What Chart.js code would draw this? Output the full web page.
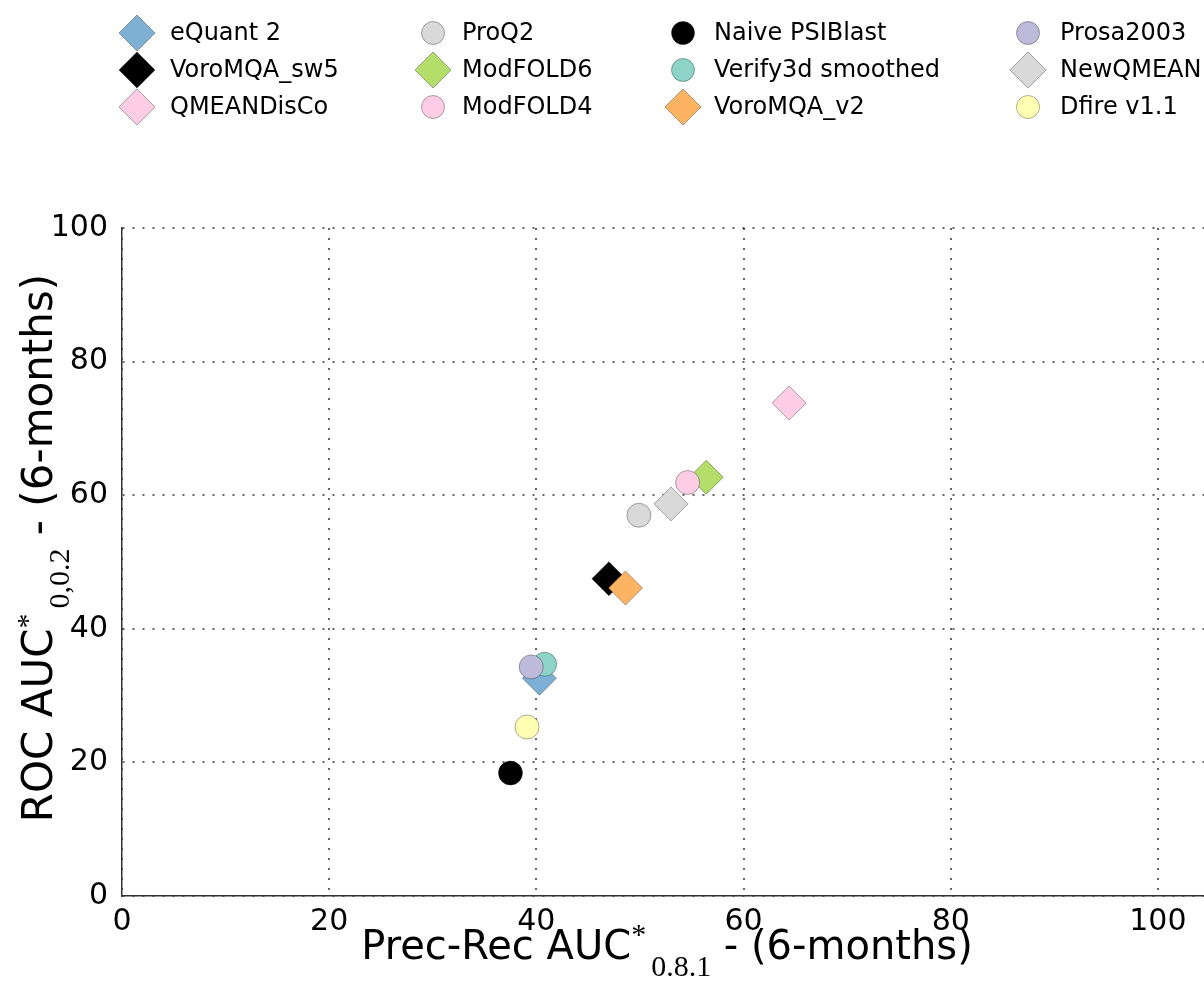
<!DOCTYPE html>
<html>
<head>
<meta charset="utf-8">
<script src="https://cdn.jsdelivr.net/npm/chart.js@4/dist/chart.umd.min.js"></script>
<style>
  html, body { margin: 0; padding: 0; background: #fff; overflow: hidden; }
  #wrap { position: relative; width: 1204px; height: 997px; }
</style>
</head>
<body>
<div id="wrap"><canvas id="c" width="1204" height="997"></canvas></div>
<script>
// Quality-assessment methods: precision-recall AUC vs ROC AUC (6-month window)
const methods = ['eQuant 2', 'VoroMQA_sw5', 'QMEANDisCo', 'ProQ2', 'ModFOLD6', 'ModFOLD4',
                 'Naive PSIBlast', 'Verify3d smoothed', 'VoroMQA_v2', 'Prosa2003', 'NewQMEAN', 'Dfire v1.1'];
const precRecAuc = [40.3, 47.0, 64.4, 49.9, 56.4, 54.6, 37.5, 40.8, 48.6, 39.5, 53.0, 39.1];
const rocAuc     = [32.6, 47.5, 73.8, 57.0, 62.7, 61.9, 18.4, 34.7, 46.1, 34.3, 58.7, 25.3];
const markerShapes = ['diamond', 'diamond', 'diamond', 'circle', 'diamond', 'circle',
                      'circle', 'circle', 'diamond', 'circle', 'diamond', 'circle'];
const markerColors = ['#7eb0d5', '#000000', '#fccde5', '#d9d9d9', '#b3de69', '#fccde5',
                      '#000000', '#8dd3c7', '#fdb462', '#bebada', '#d9d9d9', '#ffffb3'];
const xTicks = [0, 20, 40, 60, 80, 100];
const yTicks = [0, 20, 40, 60, 80, 100];

const SANS = '"DejaVu Sans", sans-serif';
const SERIF = '"Liberation Serif", "DejaVu Serif", serif';
const EDGE = 'rgba(0,0,0,0.32)';
const DIAMOND_R = 17, CIRCLE_R = 12;

const datasets = methods.map((name, i) => ({
  label: name,
  data: [{ x: precRecAuc[i], y: rocAuc[i] }],
  pointStyle: markerShapes[i] === 'diamond' ? 'rectRot' : 'circle',
  pointRadius: markerShapes[i] === 'diamond' ? DIAMOND_R : CIRCLE_R,
  pointHoverRadius: markerShapes[i] === 'diamond' ? DIAMOND_R : CIRCLE_R,
  backgroundColor: markerColors[i],
  borderColor: EDGE,
  pointBorderWidth: 1,
  borderWidth: 1,
  showLine: false,
  order: -i            // later methods are painted on top
}));

// Text runs with sub/superscripts
function runWidth(ctx, segs) {
  let w = 0;
  for (const s of segs) { ctx.font = s.font; w += ctx.measureText(s.text).width + (s.gap || 0); }
  return w;
}
function drawRuns(ctx, segs, cx, baseline) {
  let x = cx - runWidth(ctx, segs) / 2;
  ctx.textAlign = 'left';
  ctx.textBaseline = 'alphabetic';
  ctx.fillStyle = '#000';
  for (const s of segs) {
    ctx.font = s.font;
    ctx.fillText(s.text, x, baseline + (s.dy || 0));
    x += ctx.measureText(s.text).width + (s.gap || 0);
  }
}

const xTitle = [
  { text: 'Prec-Rec AUC', font: '40px ' + SANS },
  { text: '*', font: '30px ' + SERIF, dy: -15, gap: 5 },
  { text: '0.8.1', font: '30px ' + SERIF, dy: 17 },
  { text: ' - (6-months)', font: '40px ' + SANS }
];
const yTitle = [
  { text: 'ROC AUC', font: '42px ' + SANS },
  { text: '*', font: '30px ' + SERIF, dy: -15, gap: 5 },
  { text: '0,0.2', font: '30px ' + SERIF, dy: 17 },
  { text: ' - (6-months)', font: '42px ' + SANS }
];

function drawMarker(ctx, shape, x, y, r, fill) {
  ctx.beginPath();
  if (shape === 'diamond') {
    ctx.moveTo(x - r, y); ctx.lineTo(x, y - r); ctx.lineTo(x + r, y); ctx.lineTo(x, y + r);
    ctx.closePath();
  } else {
    ctx.arc(x, y, r, 0, Math.PI * 2);
  }
  ctx.fillStyle = fill;
  ctx.fill();
  ctx.lineWidth = 1;
  ctx.strokeStyle = EDGE;
  ctx.stroke();
}

const legendCols = [{ m: 137, t: 170 }, { m: 433, t: 462 }, { m: 683, t: 714 }, { m: 1028, t: 1060 }];
const legendRows = [33, 70, 107];

const decorations = {
  id: 'decorations',
  afterDraw(chart) {
    const ctx = chart.ctx;
    ctx.save();
    // legend, filled column by column
    methods.forEach((name, i) => {
      const col = legendCols[Math.floor(i / 3)], y = legendRows[i % 3];
      const shape = markerShapes[i];
      drawMarker(ctx, shape, col.m, y, shape === 'diamond' ? 18 : 11.5, markerColors[i]);
      ctx.font = '24px ' + SANS;
      ctx.fillStyle = '#000';
      ctx.textAlign = 'left';
      ctx.textBaseline = 'middle';
      ctx.fillText(name, col.t, y + 1);
    });
    // axis titles
    drawRuns(ctx, xTitle, 667, 959);
    ctx.translate(52, 548);
    ctx.rotate(-Math.PI / 2);
    drawRuns(ctx, yTitle, 0, 0);
    ctx.restore();
  }
};

const gridStyle = {
  color: 'rgba(0,0,0,0.6)',
  lineWidth: 2,
  drawTicks: false
};
const axisBorder = { display: true, color: '#333', width: 1.5, dash: [2, 8] };

new Chart(document.getElementById('c'), {
  type: 'scatter',
  data: { datasets },
  plugins: [decorations],
  options: {
    responsive: false,
    animation: false,
    devicePixelRatio: 1,
    layout: { autoPadding: false, padding: { top: 228, left: 0, right: 0, bottom: 0 } },
    plugins: { legend: { display: false }, tooltip: { enabled: false } },
    scales: {
      x: {
        type: 'linear', min: 0, max: 104.45,
        afterFit(scale) { scale.height = 101; scale.paddingRight = 0; scale.paddingLeft = 0; },
        afterBuildTicks(scale) { scale.ticks = xTicks.map(v => ({ value: v })); },
        grid: Object.assign({}, gridStyle),
        border: Object.assign({}, axisBorder),
        ticks: { font: { family: SANS, size: 30 }, color: '#000', padding: 8, maxRotation: 0, includeBounds: false }
      },
      y: {
        type: 'linear', min: 0, max: 100,
        afterFit(scale) { scale.width = 122; scale.paddingTop = 0; scale.paddingBottom = 0; },
        afterBuildTicks(scale) { scale.ticks = yTicks.map(v => ({ value: v })); },
        grid: Object.assign({}, gridStyle),
        border: Object.assign({}, axisBorder),
        ticks: { font: { family: SANS, size: 30 }, color: '#000', padding: 14 }
      }
    }
  }
});
</script>
</body>
</html>
